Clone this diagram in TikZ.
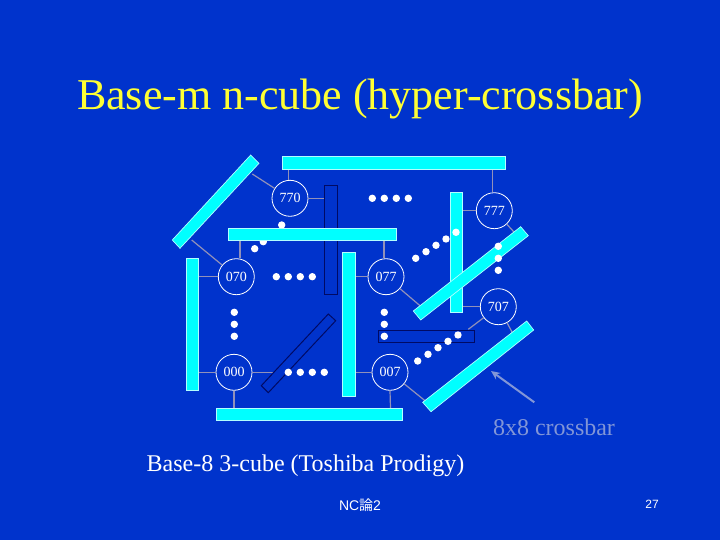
\documentclass[tikz,border=0pt]{standalone}
\usepackage{fontspec}
\usetikzlibrary{arrows.meta}
\setmainfont{Liberation Serif}
\newfontfamily\sansf{Liberation Sans}
\newfontfamily\cjkf{Noto Sans CJK JP}
\definecolor{bgblue}{RGB}{0,51,204}
\definecolor{barcyan}{RGB}{0,255,255}
\definecolor{edge}{RGB}{145,145,185}
\definecolor{titley}{RGB}{255,255,51}
\definecolor{lab}{RGB}{130,150,215}
\definecolor{darkline}{RGB}{0,10,100}
\tikzset{
 cyanbar/.style={fill=barcyan,draw=white!70!barcyan,line width=0.7pt},
 darkbar/.style={fill=bgblue,draw=darkline,line width=1pt},
 port/.style={circle,draw=white,line width=0.8pt,fill=bgblue,minimum size=36pt,inner sep=0pt,font=\fontsize{14}{14}\selectfont,text=white},
 link/.style={draw=edge,line width=1.2pt},
 pip/.style={fill=white,draw=none},
}
\newcommand{\pipdot}[2]{\fill[pip] (#1,#2) circle (3.7pt);}
\begin{document}
\begin{tikzpicture}[x=1pt,y=-1pt]
\fill[bgblue] (0,0) rectangle (720,540);
\useasboundingbox (0,0) rectangle (720,540);
% dots under bars
\foreach \x/\y in {281.7/225,272.5/233,263.3/241.7,254.7/248.7,415.7/258.3,426/251.7,436/245.3,446/239}{\pipdot{\x}{\y}}
% links
\coordinate (topA) at (288.3,169); \coordinate (diagA) at (252.3,174);
\coordinate (darkA) at (324,198.3); \coordinate (diagB) at (191.7,240);
\coordinate (midA) at (240,241); \coordinate (leftA) at (199,276.7);
\coordinate (topB) at (492.7,169); \coordinate (barC) at (463,210.7);
\coordinate (diagC) at (514,232); \coordinate (midB) at (384,241);
\coordinate (barD) at (355,276.7); \coordinate (diagD) at (420,305.7);
\coordinate (barE) at (463,306.7); \coordinate (darkE) at (468.3,329.3);
\coordinate (diagE) at (513.3,334.3); \coordinate (leftF) at (199,372.3);
\coordinate (diagF) at (276.7,372.3); \coordinate (botF) at (234,408);
\coordinate (barG) at (355,372.3); \coordinate (botG) at (390.5,408);
\coordinate (diagG) at (425,400.7);
\node[port] (n770) at (290,198.3) {770};
\node[port] (n070) at (236.3,276.7) {070};
\node[port] (n777) at (494.3,210.7) {777};
\node[port] (n077) at (386,276.7) {077};
\node[port] (n707) at (498.3,306.7) {707};
\node[port] (n000) at (234,372.3) {000};
\node[port] (n007) at (390,372.3) {007};
\draw[link] (n770) -- (darkA);
\draw[link] (n770.north -| topA) -- (topA);
\draw[link] (n770) -- (diagA);
\draw[link] (n070) -- (diagB);
\draw[link] (n070.north -| midA) -- (midA);
\draw[link] (n070) -- (leftA);
\draw[link] (n777.north -| topB) -- (topB);
\draw[link] (n777) -- (barC);
\draw[link] (n777) -- (diagC);
\draw[link] (n077.north -| midB) -- (midB);
\draw[link] (n077) -- (barD);
\draw[link] (n077) -- (diagD);
\draw[link] (n707) -- (barE);
\draw[link] (n707) -- (darkE);
\draw[link] (n707) -- (diagE);
\draw[link] (n000) -- (leftF);
\draw[link] (n000) -- (diagF);
\draw[link] (n000) -- (botF);
\draw[link] (n007) -- (barG);
\draw[link] (n007.south) -- (botG);
\draw[link] (n007) -- (diagG);
% dark crossbars
\draw[darkbar] (324,186) rectangle (337,294.3);
\draw[darkbar,fill=none] (378.3,330.3) rectangle (474.7,342.3);
\draw[darkbar] (328.3,314) -- (335.7,320.7) -- (268.3,392.7) -- (261.3,385.7) -- cycle;
% cyan crossbars
\draw[cyanbar] (282,156) rectangle (505,169);
\draw[cyanbar] (250.7,155) -- (259,163.3) -- (180,248.3) -- (172.3,240) -- cycle;
\draw[cyanbar] (228,228.3) rectangle (396.7,240.7);
\draw[cyanbar] (186,258) rectangle (198.7,390.7);
\draw[cyanbar] (342.3,252.3) rectangle (355,396.7);
\draw[cyanbar] (216,408.3) rectangle (402.7,420.7);
\draw[cyanbar] (450,192.3) rectangle (462.7,312.7);
\draw[cyanbar] (520.7,226.7) -- (528.3,235.7) -- (420.7,320) -- (413.3,311) -- cycle;
\draw[cyanbar] (526.7,321) -- (533.7,330) -- (431,411.7) -- (422.7,402.3) -- cycle;
% dots over bars
\foreach \x/\y in {372.3/198.3,384.3/198.3,396.3/198.3,408.3/198.3,276.3/276.7,288.3/276.7,300.3/276.7,312.3/276.7,288.3/372.3,300.3/372.3,312.3/372.3,324.3/372.3,234.3/312.3,234.3/324.3,234.3/336.3,384.3/312.3,384.3/324.3,384.3/336.3,498.3/246.3,498.3/258.3,498.3/270.3,456/232.3,417.7/361,428/354.3,438/347.7,448/341.3,458/335}{\pipdot{\x}{\y}}
% labels
\node[font=\fontsize{44}{44}\selectfont,text=titley,inner sep=0pt,anchor=base] (title) at (360,110) {Base-m n-cube (hyper-crossbar)};
\node[font=\fontsize{24}{24}\selectfont,text=white,inner sep=0pt,anchor=base] (cap) at (305.5,471) {Base-8 3-cube (Toshiba Prodigy)};
\node[font=\fontsize{24}{24}\selectfont,text=lab,inner sep=0pt,anchor=base] (xlab) at (554,435) {8x8 crossbar};
\coordinate (arrS) at (534.3,402.3); \coordinate (arrE) at (491,371);
\draw[draw=lab,line width=2pt,-{Stealth[length=9pt,width=8pt]}] (arrS) -- (arrE);
\node[font=\fontsize{14}{14}\selectfont,text=white,inner sep=0pt] (foot) at (360,505.5) {\sansf NC\cjkf 論\sansf 2};
\node[font=\fontsize{12}{12}\selectfont\sansf,text=white,inner sep=0pt] (num) at (652,504) {27};
\end{tikzpicture}
\end{document}
